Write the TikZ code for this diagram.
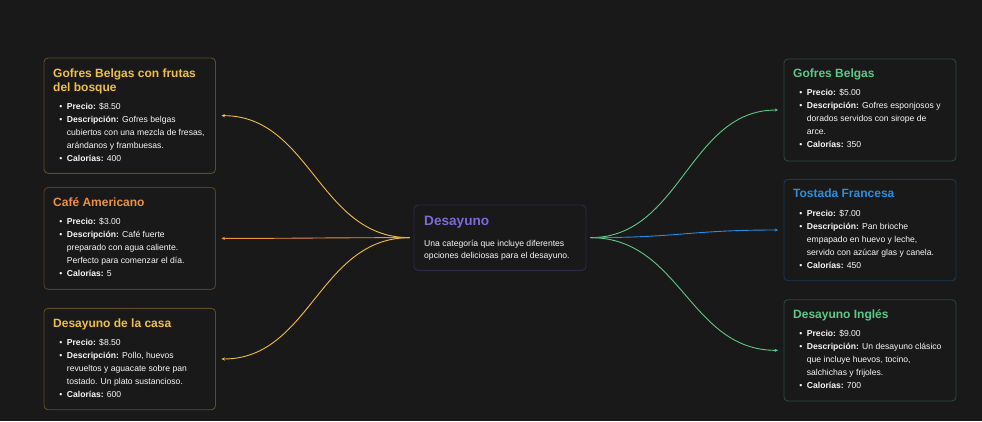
\documentclass[tikz,border=0pt]{standalone}
\usepackage{fontspec}
\setmainfont{Liberation Sans}
\usetikzlibrary{arrows.meta}
\definecolor{bg}{RGB}{25,25,25}
\definecolor{cardfill}{RGB}{25,25,25}
\definecolor{ylw}{RGB}{238,192,62}
\definecolor{org}{RGB}{236,146,62}
\definecolor{pur}{RGB}{124,106,214}
\definecolor{grn}{RGB}{92,200,136}
\definecolor{blu}{RGB}{40,142,222}
\definecolor{ylwb}{RGB}{92,77,36}
\definecolor{orgb}{RGB}{88,62,36}
\definecolor{purb}{RGB}{46,43,72}
\definecolor{grnb}{RGB}{40,74,54}
\definecolor{blub}{RGB}{26,56,86}
\definecolor{txt}{RGB}{248,248,248}
\tikzset{
  card/.style={draw=#1, fill=cardfill, rounded corners=4pt, line width=0.9pt, inner sep=0pt},
  ttl/.style={anchor=base west, inner sep=0pt, text=#1, font=\fontsize{12}{14}\selectfont\bfseries},
  ctl/.style={anchor=base west, inner sep=0pt, text=#1, font=\fontsize{13.6}{16}\selectfont\bfseries},
  bodytxt/.style={anchor=base west, inner sep=0pt, text=txt, font=\fontsize{8.6}{10}\selectfont},
  conn/.style={draw=#1, line width=0.9pt, shorten <=4pt, shorten >=5.5pt, -{Stealth[length=3.5pt,width=3.2pt]}}
}
\newcommand\bulline[4]{\node[bodytxt] (#1) at (#2,#3) {\makebox[7.5pt][l]{•}#4};}
\newcommand\contline[4]{\node[bodytxt] (#1) at (#2,#3) {#4};}
\begin{document}
\begin{tikzpicture}[x=1pt,y=-1pt]
\useasboundingbox[fill=bg] (0,0) rectangle (982,421);

% cards
\node[card=ylwb, minimum width=171.5pt, minimum height=115.3pt] (b1) at (129.75,115.65) {};
\node[card=orgb, minimum width=171.5pt, minimum height=101.8pt] (b2) at (129.75,238.4) {};
\node[card=ylwb, minimum width=171.5pt, minimum height=101.4pt] (b3) at (129.75,359) {};
\node[card=purb, minimum width=172pt, minimum height=65.3pt] (c) at (500,237.65) {};
\node[card=grnb, minimum width=172pt, minimum height=102pt] (r1) at (870,110) {};
\node[card=blub, minimum width=172pt, minimum height=101.4pt] (r2) at (870,230) {};
\node[card=grnb, minimum width=172pt, minimum height=101.3pt] (r3) at (870,350.35) {};

% connectors
\draw[conn=ylw] (c.west) .. controls +(-94.5,0) and +(94.5,0) .. (b1.east);
\draw[conn=org] (c.west) .. controls +(-94.5,0) and +(94.5,0) .. (b2.east);
\draw[conn=ylw] (c.west) .. controls +(-94.5,0) and +(94.5,0) .. (b3.east);
\draw[conn=grn] (c.east) .. controls +(94.5,0) and +(-94.5,0) .. (r1.west);
\draw[conn=blu] (c.east) .. controls +(94.5,0) and +(-94.5,0) .. (r2.west);
\draw[conn=grn] (c.east) .. controls +(94.5,0) and +(-94.5,0) .. (r3.west);

% center
\node[ctl=pur] (ct) at (424,225.7) {Desayuno};
\contline{c1}{424}{246}{Una categoría que incluye diferentes}
\contline{c2}{424}{258.5}{opciones deliciosas para el desayuno.}

% box 1
\node[ttl=ylw] (b1t1) at (53,77.5) {Gofres Belgas con frutas};
\node[ttl=ylw] (b1t2) at (53,91.5) {del bosque};
\bulline{b1a}{59.2}{109.8}{\textbf{Precio:} \$8.50}
\bulline{b1b}{59.2}{122.8}{\textbf{Descripción:} Gofres belgas}
\contline{b1c}{66.7}{135.8}{cubiertos con una mezcla de fresas,}
\contline{b1d}{66.7}{148.8}{arándanos y frambuesas.}
\bulline{b1e}{59.2}{161.6}{\textbf{Calorías:} 400}

% box 2
\node[ttl=org] (b2t) at (53,206.5) {Café Americano};
\bulline{b2a}{59.2}{224}{\textbf{Precio:} \$3.00}
\bulline{b2b}{59.2}{237}{\textbf{Descripción:} Café fuerte}
\contline{b2c}{66.7}{250}{preparado con agua caliente.}
\contline{b2d}{66.7}{263}{Perfecto para comenzar el día.}
\bulline{b2e}{59.2}{276.3}{\textbf{Calorías:} 5}

% box 3
\node[ttl=ylw] (b3t) at (53,327.5) {Desayuno de la casa};
\bulline{b3a}{59.2}{345}{\textbf{Precio:} \$8.50}
\bulline{b3b}{59.2}{358}{\textbf{Descripción:} Pollo, huevos}
\contline{b3c}{66.7}{371}{revueltos y aguacate sobre pan}
\contline{b3d}{66.7}{384}{tostado. Un plato sustancioso.}
\bulline{b3e}{59.2}{397}{\textbf{Calorías:} 600}

% right 1
\node[ttl=grn] (r1t) at (793,77.7) {Gofres Belgas};
\bulline{r1a}{799.2}{95}{\textbf{Precio:} \$5.00}
\bulline{r1b}{799.2}{108}{\textbf{Descripción:} Gofres esponjosos y}
\contline{r1c}{806.7}{121}{dorados servidos con sirope de}
\contline{r1d}{806.7}{134}{arce.}
\bulline{r1e}{799.2}{147.5}{\textbf{Calorías:} 350}

% right 2
\node[ttl=blu] (r2t) at (793,197.7) {Tostada Francesa};
\bulline{r2a}{799.2}{216.3}{\textbf{Precio:} \$7.00}
\bulline{r2b}{799.2}{229.3}{\textbf{Descripción:} Pan brioche}
\contline{r2c}{806.7}{242.3}{empapado en huevo y leche,}
\contline{r2d}{806.7}{255.3}{servido con azúcar glas y canela.}
\bulline{r2e}{799.2}{268}{\textbf{Calorías:} 450}

% right 3
\node[ttl=grn] (r3t) at (793,318.3) {Desayuno Inglés};
\bulline{r3a}{799.2}{336.7}{\textbf{Precio:} \$9.00}
\bulline{r3b}{799.2}{349.6}{\textbf{Descripción:} Un desayuno clásico}
\contline{r3c}{806.7}{362.5}{que incluye huevos, tocino,}
\contline{r3d}{806.7}{375.4}{salchichas y frijoles.}
\bulline{r3e}{799.2}{388.3}{\textbf{Calorías:} 700}
\end{tikzpicture}
\end{document}
